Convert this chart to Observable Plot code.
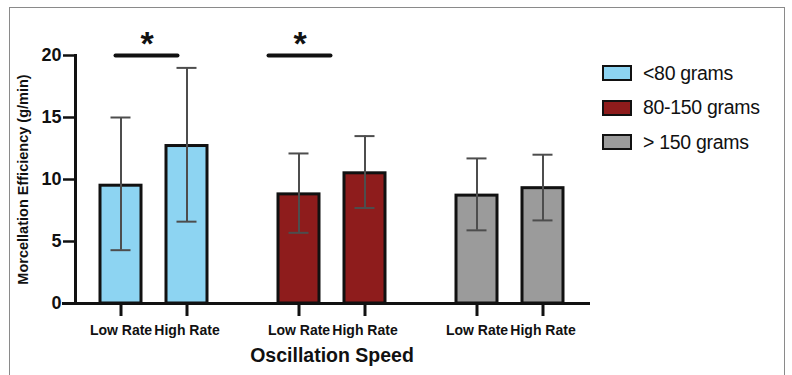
<!DOCTYPE html>
<html><head><meta charset="utf-8">
<script src="https://cdn.jsdelivr.net/npm/d3@7"></script>
<script src="https://cdn.jsdelivr.net/npm/@observablehq/plot@0.6"></script>
<style>
body{margin:0;background:#fff;font-family:"Liberation Sans",Arial,sans-serif}
#wrap{position:relative;width:792px;height:375px;overflow:hidden;background:#fff}
#border{position:absolute;left:9px;top:7px;width:776px;height:420px;border:1px solid #8a8a8a;box-sizing:border-box}
#chart{position:absolute;left:0;top:0}
#legend{position:absolute;left:602px;top:56px}
.row{display:flex;align-items:center;height:34.5px;margin:0}
.sw{width:30px;height:16px;border:2.5px solid #111;box-sizing:border-box;margin-right:11px}
.lb{font-size:19.5px;color:#111;letter-spacing:-0.3px}
</style></head>
<body><div id="wrap"><div id="border"></div><div id="chart"></div><div id="legend"></div></div>
<script>
const groups = ["<80 grams", "80-150 grams", "> 150 grams"];
const rates = ["Low Rate", "High Rate"];
const means = [[9.5, 12.7], [8.8, 10.5], [8.7, 9.3]];
const errLow = [[4.3, 6.6], [5.7, 7.7], [5.9, 6.7]];
const errHigh = [[15.0, 19.0], [12.1, 13.5], [11.7, 12.0]];
const colors = ["#8DD4F2", "#8E1C1C", "#9B9B9B"];
const yTicks = [0, 5, 10, 15, 20];
const sigLevel = 20;
const yLabel = "Morcellation Efficiency (g/min)";
const xLabel = "Oscillation Speed";

const rows = [];
groups.forEach((g, i) => rates.forEach((r, j) => rows.push({
  group: g, rate: r, mean: means[i][j], lo: errLow[i][j], hi: errHigh[i][j]
})));

const chart = Plot.plot({
  width: 792, height: 375,
  marginLeft: 74, marginRight: 202, marginTop: 55, marginBottom: 72,
  style: {fontFamily: "Liberation Sans, Arial, sans-serif", color: "#111", background: "transparent"},
  fx: {domain: groups, paddingInner: 0.117, paddingOuter: 0, axis: null, label: null},
  x: {domain: rates, paddingInner: 0.373, paddingOuter: 0.366, axis: null, label: null},
  y: {domain: [0, 20], axis: null},
  color: {domain: groups, range: colors},
  marks: [
    Plot.barY(rows, {fx: "group", x: "rate", y: "mean", fill: "group", stroke: "#111", strokeWidth: 3}),
    Plot.ruleX(rows, {fx: "group", x: "rate", y1: "lo", y2: "hi", stroke: "#4d4d4d", strokeWidth: 2}),
    Plot.tickY(rows, {fx: "group", x: "rate", y: "hi", stroke: "#4d4d4d", strokeWidth: 2, insetLeft: 10.5, insetRight: 10.5}),
    Plot.tickY(rows, {fx: "group", x: "rate", y: "lo", stroke: "#4d4d4d", strokeWidth: 2, insetLeft: 10.5, insetRight: 10.5}),
    Plot.axisX({tickSize: 13, tickPadding: 9, fontSize: 14, fontWeight: "bold", strokeWidth: 3, label: null}),
    Plot.axisY({ticks: yTicks, tickSize: 12, tickPadding: 2, fontSize: 18, fontWeight: "bold", strokeWidth: 2.5, label: null}),
    Plot.frame({anchor: "left", facet: "super", stroke: "#111", strokeWidth: 3}),
    Plot.frame({anchor: "bottom", facet: "super", stroke: "#111", strokeWidth: 3, insetLeft: -12}),
    // significance bars
    Plot.ruleY([{group: groups[0], y: sigLevel}], {fx: "group", y: "y", x1: () => rates[0], x2: () => rates[1], stroke: "#111", strokeWidth: 4, strokeLinecap: "round", insetLeft: 15.5, insetRight: 29.5}),
    Plot.text([{group: groups[0], y: sigLevel}], {fx: "group", y: "y", text: () => "*", fontSize: 34, fontWeight: "bold", dx: -7, dy: -11, fill: "#111"}),
    Plot.ruleY([{group: groups[1], y: sigLevel}], {fx: "group", y: "y", x1: () => rates[0], x2: () => rates[1], stroke: "#111", strokeWidth: 4, strokeLinecap: "round", insetLeft: -9.5, insetRight: 54.5}),
    Plot.text([{group: groups[1], y: sigLevel}], {fx: "group", y: "y", text: () => "*", fontSize: 34, fontWeight: "bold", dx: -32, dy: -11, fill: "#111"}),
    Plot.text([yLabel], {facet: "super", frameAnchor: "left", textAnchor: "middle", rotate: -90, dx: -52, fontSize: 14.5, fontWeight: "bold", fill: "#111"}),
    Plot.text([xLabel], {facet: "super", frameAnchor: "bottom", lineAnchor: "middle", dy: 52, fontSize: 19.5, fontWeight: "bold", fill: "#111"})
  ]
});
document.getElementById("chart").appendChild(chart);

const legend = document.getElementById("legend");
groups.forEach((g, i) => {
  const row = document.createElement("div");
  row.className = "row";
  row.innerHTML = `<div class="sw" style="background:${colors[i]}"></div><span class="lb"></span>`;
  row.querySelector(".lb").textContent = g;
  legend.appendChild(row);
});
</script></body></html>
